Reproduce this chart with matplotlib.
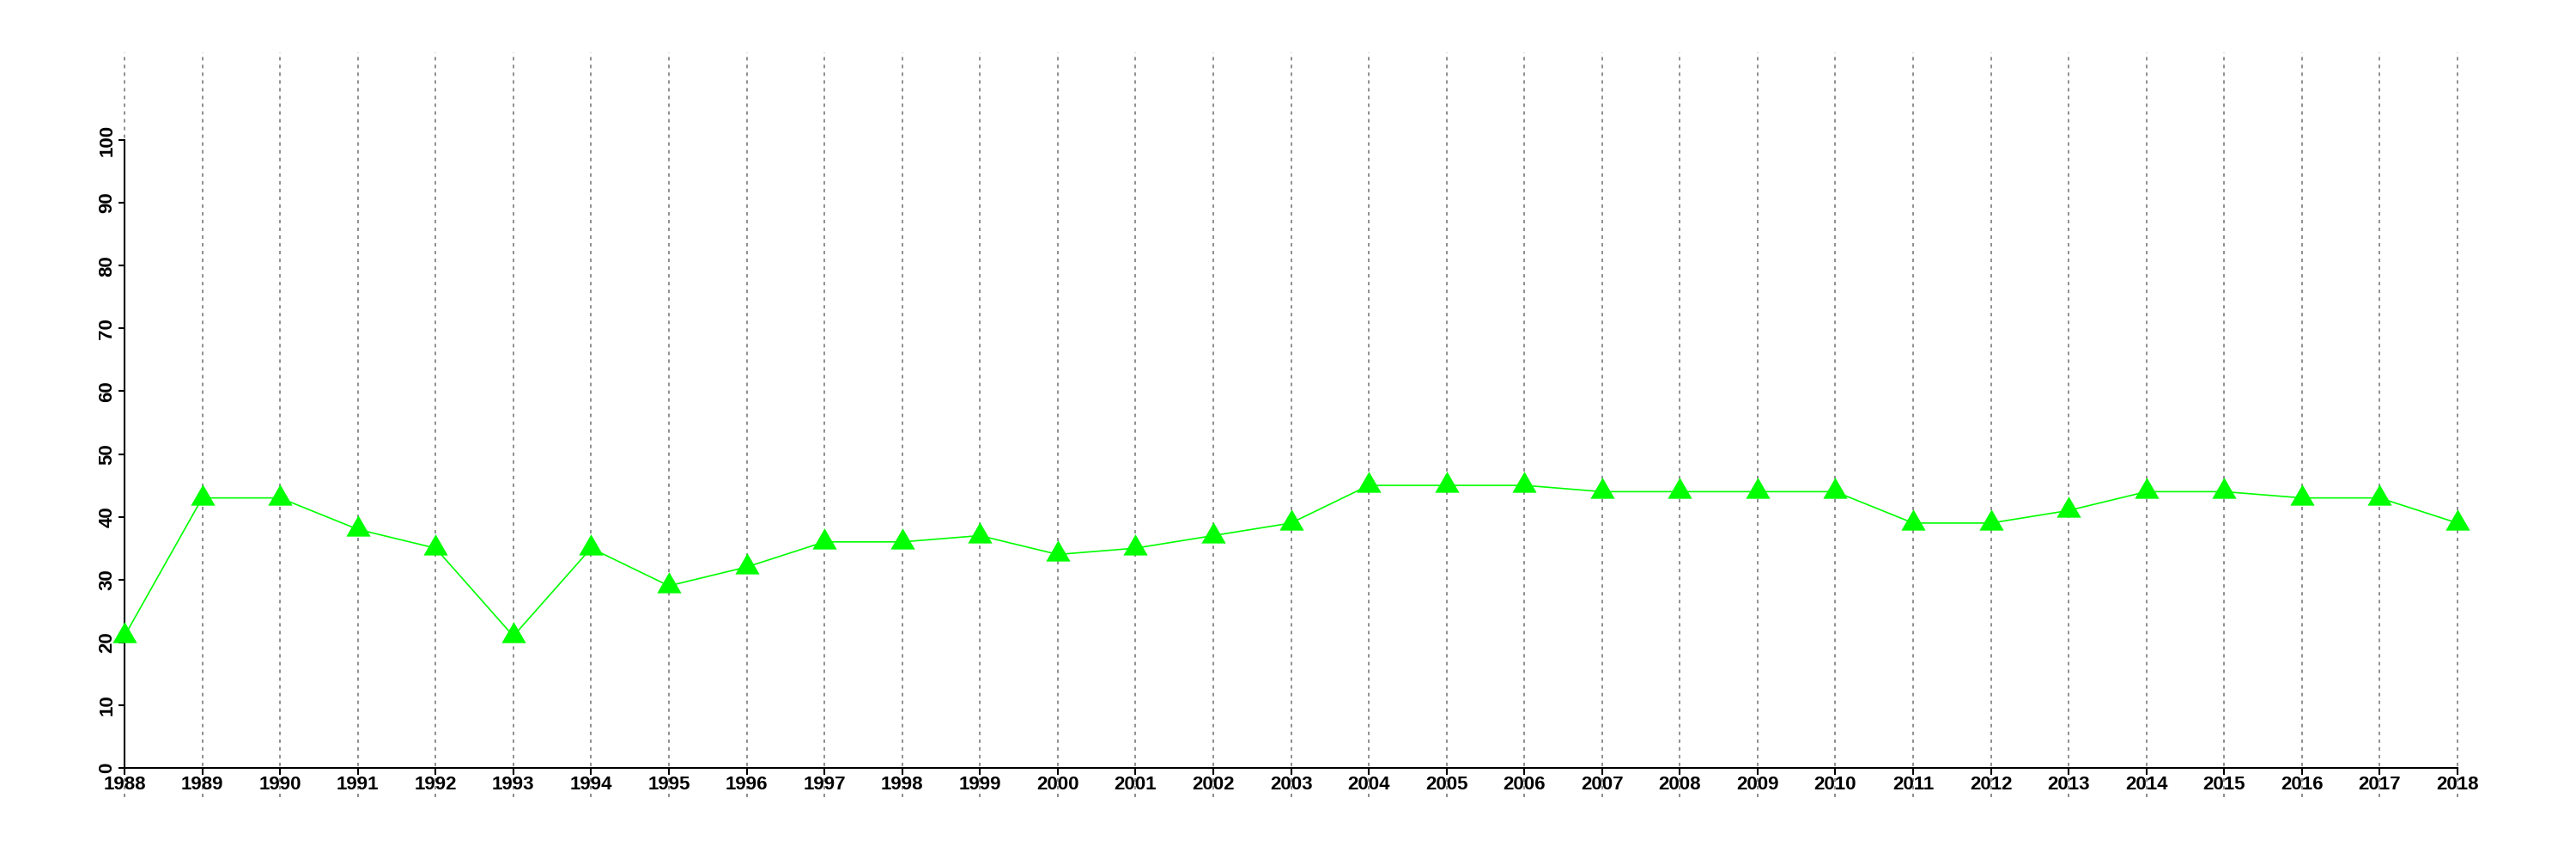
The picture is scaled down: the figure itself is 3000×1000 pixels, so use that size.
import matplotlib
matplotlib.use("Agg")
import matplotlib.pyplot as plt
import numpy as np

years = list(range(1988, 2019))
values = [21, 43, 43, 38, 35, 21, 35, 29, 32, 36, 36, 37, 34, 35, 37, 39,
          45, 45, 45, 44, 44, 44, 44, 39, 39, 41, 44, 44, 43, 43, 39]
yticks = list(range(0, 101, 10))

plt.rcParams['font.family'] = ['Liberation Sans', 'DejaVu Sans']
plt.rcParams['font.weight'] = 'bold'
plt.rcParams['lines.scale_dashes'] = False

fig = plt.figure(figsize=(30, 10), dpi=100)
ax = fig.add_axes([145/3000, 1-894/1000, (2862-145)/3000, (894-163)/1000])

ax.set_xlim(1988, 2018)
ax.set_ylim(0, 100)

# vertical dotted gridlines extending beyond axes
ax.vlines(years, -4.6, 114, colors='#707070', linestyles=(0, (2.9, 3.6)),
          linewidth=1.1, clip_on=False, zorder=1)

h = np.sqrt(3) / 2
tri = [(0, 2*h/3), (-0.5, -h/3), (0.5, -h/3), (0, 2*h/3)]
ax.plot(years, values, color='#00FF00', linewidth=1.2, marker=tri,
        markersize=23.5, markerfacecolor='#00FF00', markeredgecolor='#00FF00',
        markeredgewidth=0, clip_on=False, zorder=3)

for s in ['top', 'right']:
    ax.spines[s].set_visible(False)
for s in ['left', 'bottom']:
    ax.spines[s].set_linewidth(1.5)

ax.set_xticks(years)
ax.set_xticklabels([str(y) for y in years], fontsize=16, fontweight='bold')
ax.set_yticks(yticks)
ax.set_yticklabels([str(v) for v in yticks], fontsize=16, fontweight='bold',
                   rotation=90, va='center')
ax.tick_params(axis='x', length=5.5, width=1.5, pad=1)
ax.tick_params(axis='y', length=5, width=1.5, pad=2)

fig.savefig('out.png', dpi=100)
